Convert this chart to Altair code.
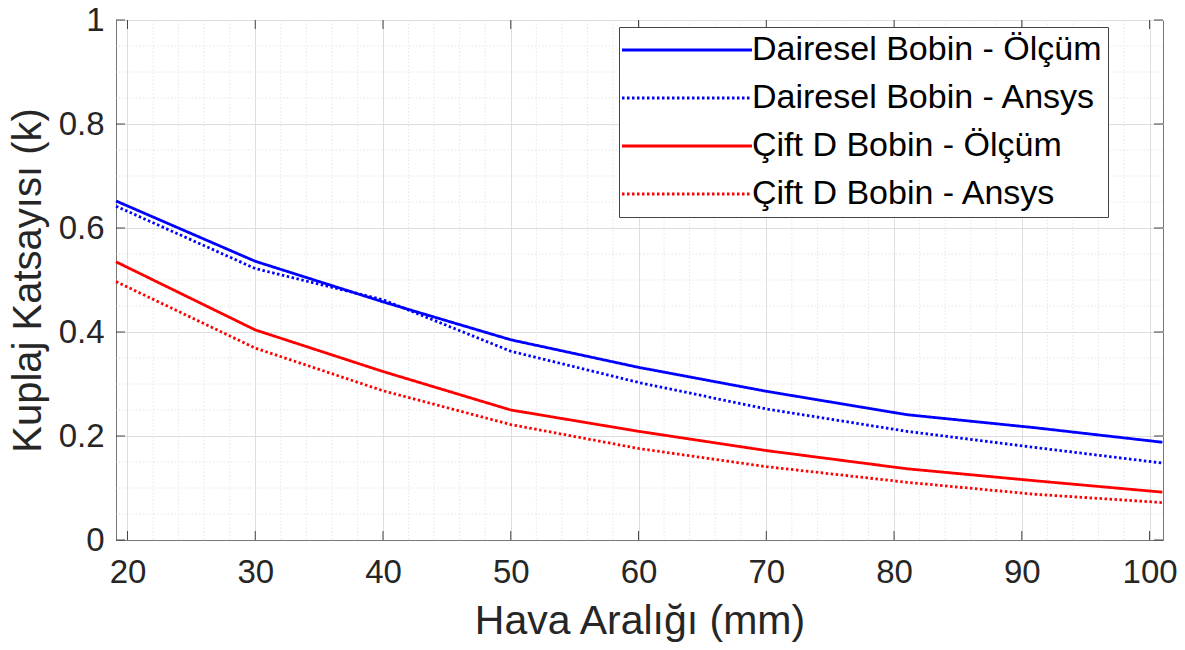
import altair as alt
import pandas as pd

# ---- data ----
gap_mm = [19.1, 30, 40, 50, 60, 70, 81, 91, 101]
dairesel_olcum = [0.652, 0.536, 0.458, 0.385, 0.332, 0.286, 0.241, 0.216, 0.188]
dairesel_ansys = [0.642, 0.522, 0.462, 0.363, 0.303, 0.252, 0.209, 0.178, 0.148]
ciftd_olcum = [0.535, 0.404, 0.324, 0.250, 0.209, 0.172, 0.137, 0.114, 0.092]
ciftd_ansys = [0.497, 0.369, 0.287, 0.222, 0.176, 0.141, 0.111, 0.088, 0.072]

series_names = [
    "Dairesel Bobin - Ölçüm",
    "Dairesel Bobin - Ansys",
    "Çift D Bobin - Ölçüm",
    "Çift D Bobin - Ansys",
]
series_colors = ["#0000FF", "#0000FF", "#FF0000", "#FF0000"]
series_dashes = [[1, 0], [2.5, 2.5], [1, 0], [2.5, 2.5]]

x_major = [20, 30, 40, 50, 60, 70, 80, 90, 100]
x_minor = [22, 24, 26, 28, 32, 34, 36, 38, 42, 44, 46, 48, 52, 54, 56, 58,
           62, 64, 66, 68, 72, 74, 76, 78, 82, 84, 86, 88, 92, 94, 96, 98]
y_major = [0, 0.2, 0.4, 0.6, 0.8, 1.0]
y_minor = [0.05, 0.1, 0.15, 0.25, 0.3, 0.35, 0.45, 0.5, 0.55,
           0.65, 0.7, 0.75, 0.85, 0.9, 0.95]

x_title = "Hava Aralığı (mm)"
y_title = "Kuplaj Katsayısı (k)"

rows = []
for name, vals in zip(series_names, [dairesel_olcum, dairesel_ansys, ciftd_olcum, ciftd_ansys]):
    for xv, yv in zip(gap_mm, vals):
        rows.append({"seri": name, "x": xv, "y": yv})
df = pd.DataFrame(rows)

W, H = 1047, 520
FONT = "Liberation Sans"
TXT = "#262626"

x_scale = alt.Scale(domain=[19.1, 101.05], nice=False, zero=False)
y_scale = alt.Scale(domain=[0, 1], nice=False)

x_axis = alt.Axis(title=x_title, values=x_major, grid=True, gridColor="#dedede",
                  ticks=False, labelFontSize=33, labelColor=TXT, labelPadding=16,
                  titleFontSize=41, titleFontWeight="normal", titleColor=TXT,
                  titlePadding=12, domainColor="#777777", labelFont=FONT, titleFont=FONT)
y_axis = alt.Axis(title=y_title, values=y_major, grid=True, gridColor="#dedede",
                  ticks=False, format=".1~f", labelFontSize=33, labelColor=TXT,
                  labelPadding=12, titleFontSize=40, titleFontWeight="normal",
                  titleColor=TXT, titlePadding=10, domainColor="#777777",
                  labelFont=FONT, titleFont=FONT)

X = lambda f: alt.X(f, type="quantitative", scale=x_scale, axis=x_axis)
Y = lambda f: alt.Y(f, type="quantitative", scale=y_scale, axis=y_axis)

xminor_df = pd.DataFrame({"x": x_minor})
yminor_df = pd.DataFrame({"y": y_minor})
xmajor_df = pd.DataFrame({"x": x_major})
ymajor_df = pd.DataFrame({"y": y_major})

minor_x = alt.Chart(xminor_df).mark_rule(color="#e6e6e6", strokeDash=[1.5, 2], strokeWidth=1).encode(x=X("x"))
minor_y = alt.Chart(yminor_df).mark_rule(color="#e6e6e6", strokeDash=[1.5, 2], strokeWidth=1).encode(y=Y("y"))

lines = alt.Chart(df).mark_line(strokeWidth=2.8).encode(
    x=X("x"),
    y=Y("y"),
    color=alt.Color("seri:N", scale=alt.Scale(domain=series_names, range=series_colors),
                    legend=alt.Legend(title=None, orient="none", legendX=503, legendY=7,
                                      fillColor="white", strokeColor="#444444",
                                      padding=6, labelFontSize=34, labelFont=FONT,
                                      labelColor="black", symbolType="M-15.4,0L84.6,0",
                                      symbolSize=6.76, symbolStrokeWidth=2.8,
                                      labelOffset=93, rowPadding=14, labelLimit=600)),
    strokeDash=alt.StrokeDash("seri:N", scale=alt.Scale(domain=series_names, range=series_dashes),
                              legend=None),
    detail="seri:N",
)

tick_bottom = alt.Chart(xmajor_df).mark_rule(color="#444444", strokeWidth=1).encode(
    x=X("x"), y=alt.value(H), y2=alt.value(H - 9))
tick_top = alt.Chart(xmajor_df).mark_rule(color="#444444", strokeWidth=1).encode(
    x=X("x"), y=alt.value(0), y2=alt.value(9))
tick_left = alt.Chart(ymajor_df).mark_rule(color="#444444", strokeWidth=1).encode(
    y=Y("y"), x=alt.value(0), x2=alt.value(9))
tick_right = alt.Chart(ymajor_df).mark_rule(color="#444444", strokeWidth=1).encode(
    y=Y("y"), x=alt.value(W), x2=alt.value(W - 9))

chart = alt.layer(minor_x, minor_y, lines, tick_bottom, tick_top, tick_left, tick_right).properties(
    width=W, height=H,
    padding={"left": 116, "top": 20, "right": 22, "bottom": 110},
    autosize=alt.AutoSizeParams(type="none"),
    background="white",
).configure_view(stroke="#777777", strokeWidth=1)

chart.save("out.html", embed_options={"renderer": "svg", "actions": False})
